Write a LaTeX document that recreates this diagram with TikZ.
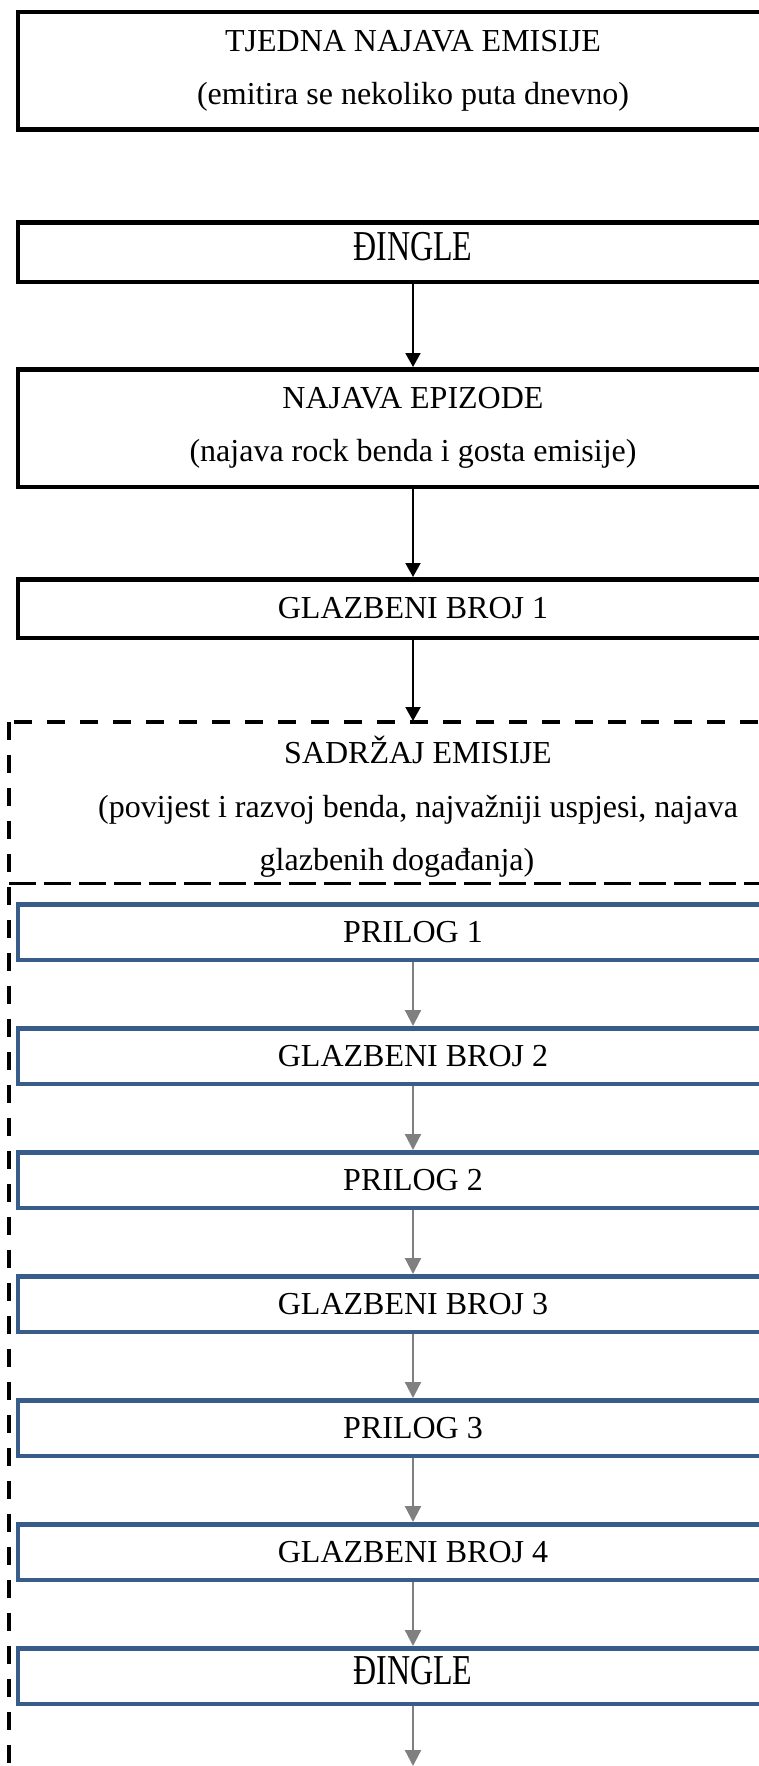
\documentclass[tikz,border=0pt]{standalone}
\usepackage{fontspec}
\setmainfont{Liberation Serif}
\usepackage{graphicx}
\usepackage{tikz}
\usetikzlibrary{arrows.meta, positioning}
\definecolor{segblue}{RGB}{56,93,138}
\definecolor{arrowgrey}{RGB}{128,128,128}
\newcommand{\tallword}[1]{\scalebox{1}[1.33]{#1}}

\begin{document}
\begin{tikzpicture}[
  x=1pt,y=1pt,
  component/.style={
    rectangle, line width=4.5pt, draw=black, fill=white,
    minimum width=790pt, minimum height=58.5pt, inner sep=0pt,
    align=center, font=\fontsize{32}{47}\selectfont
  },
  tallbox/.style={component, minimum height=117.5pt},
  oneline/.style={text height=21.5pt, text depth=1pt},
  jingle/.style={text height=28pt, text depth=11.5pt},
  segment/.style={component, draw=segblue, minimum height=55.5pt},
  arrow/.style={-{Triangle[length=14pt, width=15pt]}, line width=2pt, draw=black},
  greyarrow/.style={-{Triangle[length=16pt, width=16pt]}, line width=2.2pt, draw=arrowgrey},
  frame/.style={line width=4pt, dash pattern=on 18pt off 15pt},
  divider/.style={line width=3pt, dash pattern=on 27pt off 8pt}
]
\useasboundingbox (0,0) rectangle (759,-1766);
\clip (0,0) rectangle (759,-1766);

% ---- upper part ----
\node[tallbox] (weekly) at (413,-71) {TJEDNA NAJAVA EMISIJE\\[6pt](emitira se nekoliko puta dnevno)};
\node[component, jingle, minimum height=59.5pt] (jingle) at (413,-252) {\tallword{ĐINGLE}};
\node[tallbox] (episode) at (413,-428) {NAJAVA EPIZODE\\[6pt](najava rock benda i gosta emisije)};
\node[component, oneline] (music1) at (413,-608.5) {GLAZBENI BROJ 1};

% ---- dashed container ----
\draw[frame] (9,-722) rectangle (840,-1800);
\coordinate (contentTop) at (413,-721);
\coordinate (dividerL) at (9,-883);
\coordinate (dividerR) at (840,-883);
\draw[divider] (dividerL) -- (dividerR);
\node[align=center, font=\fontsize{32}{47}\selectfont] (contentText) at (418,-807)
  {SADRŽAJ EMISIJE\\[7pt](povijest i razvoj benda, najvažniji uspjesi, najava\\[6pt]glazbenih događanja)\hspace*{42pt}};

% ---- segments inside the container ----
\node[segment, oneline] (item1) at (413,-932) {PRILOG 1};
\node[segment, oneline, below=64pt of item1] (music2) {GLAZBENI BROJ 2};
\node[segment, oneline, below=64pt of music2] (item2) {PRILOG 2};
\node[segment, oneline, below=64pt of item2] (music3) {GLAZBENI BROJ 3};
\node[segment, oneline, below=64pt of music3] (item3) {PRILOG 3};
\node[segment, oneline, below=64pt of item3] (music4) {GLAZBENI BROJ 4};
\node[segment, jingle, below=64pt of music4] (jingle2) {\tallword{ĐINGLE}};
\coordinate (bottomEnd) at (413,-1766);

% ---- connectors ----
\draw[arrow] (jingle) -- (episode);
\draw[arrow] (episode) -- (music1);
\draw[arrow] (music1) -- (contentTop);

\draw[greyarrow] (item1) -- (music2);
\draw[greyarrow] (music2) -- (item2);
\draw[greyarrow] (item2) -- (music3);
\draw[greyarrow] (music3) -- (item3);
\draw[greyarrow] (item3) -- (music4);
\draw[greyarrow] (music4) -- (jingle2);
\draw[greyarrow] (jingle2) -- (bottomEnd);

\end{tikzpicture}
\end{document}
